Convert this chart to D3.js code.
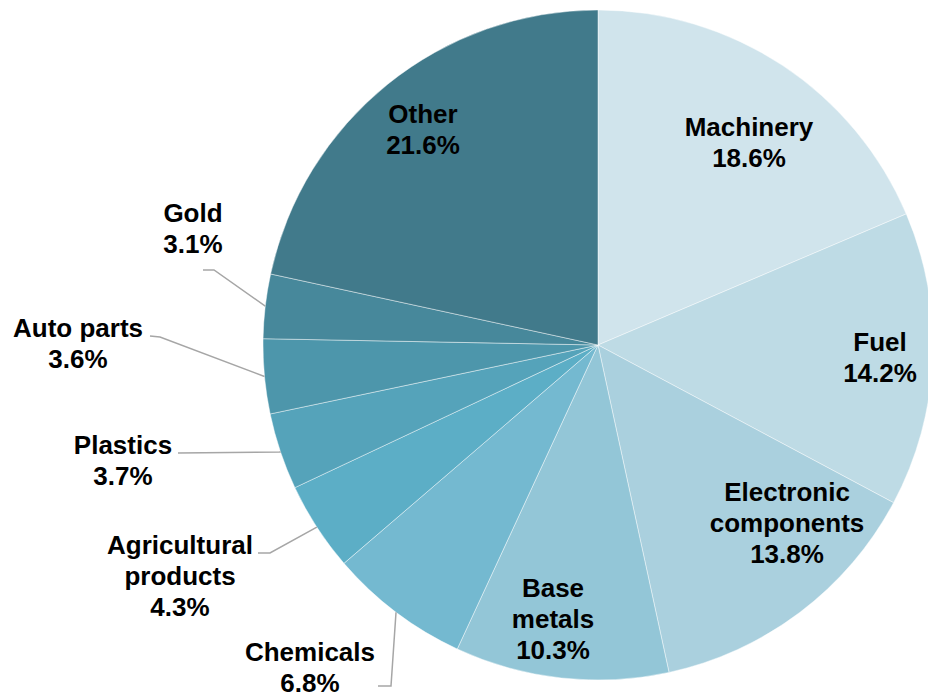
<!DOCTYPE html>
<html>
<head>
<meta charset="utf-8">
<script src="https://cdn.jsdelivr.net/npm/d3@7"></script>
<style>
  html, body { margin: 0; padding: 0; background: #fff; }
  svg { display: block; }
  text { font-family: "Liberation Sans", Arial, sans-serif; font-weight: bold; font-size: 26px; fill: #000; }
</style>
</head>
<body>
<svg id="chart" width="928" height="695"></svg>
<script>
// Data
const categories = ["Machinery", "Fuel", "Electronic components", "Base metals", "Chemicals",
  "Agricultural products", "Plastics", "Auto parts", "Gold", "Other"];
const values = [18.6, 14.2, 13.8, 10.3, 6.8, 4.3, 3.7, 3.6, 3.1, 21.6];
const labelLines = [
  ["Machinery"], ["Fuel"], ["Electronic", "components"], ["Base", "metals"], ["Chemicals"],
  ["Agricultural", "products"], ["Plastics"], ["Auto parts"], ["Gold"], ["Other"]
];

// Style / layout
const colors = ["#d0e4ec", "#bedbe5", "#aad0de", "#93c6d7", "#74b9d0",
  "#5caec6", "#55a3ba", "#4d96ab", "#47889b", "#417a8b"];
const cx = 598, cy = 345, radius = 335;
const lineH = 31;
// label anchor: [x, first baseline y]
const labelPos = [
  [749, 136], [880, 351], [787, 501], [553, 597], [310, 661],
  [180, 554], [123, 454], [78, 337], [193, 222], [423, 123]
];
// leader lines: null for inside labels, else [elbow, end]
const leaders = [
  null, null, null, null,
  [[391, 686], [378, 686]],
  [[270, 553], [258, 553]],
  [[280, 452], [178, 453]],
  [[160, 337], [150, 336]],
  [[214, 270], [203, 270]],
  null
];

const svg = d3.select("#chart");
const g = svg.append("g").attr("transform", `translate(${cx},${cy})`);

const pie = d3.pie().sort(null).value(d => d).startAngle(0).endAngle(2 * Math.PI);
const arcs = pie(values);
const arc = d3.arc().innerRadius(0).outerRadius(radius);

g.selectAll("path.slice")
  .data(arcs)
  .join("path")
  .attr("class", "slice")
  .attr("d", arc)
  .attr("fill", (d, i) => colors[i])
  .attr("stroke", "rgba(255,255,255,0.55)")
  .attr("stroke-width", 0.8);

// leader lines
const lineGen = d3.line();
arcs.forEach((d, i) => {
  if (!leaders[i]) return;
  const mid = (d.startAngle + d.endAngle) / 2;
  const p0 = [cx + radius * Math.sin(mid), cy - radius * Math.cos(mid)];
  svg.append("path")
    .attr("d", lineGen([p0, leaders[i][0], leaders[i][1]]))
    .attr("fill", "none")
    .attr("stroke", "#a6a6a6")
    .attr("stroke-width", 1.5);
});

// labels
arcs.forEach((d, i) => {
  const lines = labelLines[i].concat([d3.format(".1f")(values[i]) + "%"]);
  const t = svg.append("text")
    .attr("text-anchor", "middle")
    .attr("x", labelPos[i][0])
    .attr("y", labelPos[i][1]);
  lines.forEach((ln, k) => {
    t.append("tspan")
      .attr("x", labelPos[i][0])
      .attr("y", labelPos[i][1] + k * lineH)
      .text(ln);
  });
});
</script>
</body>
</html>
